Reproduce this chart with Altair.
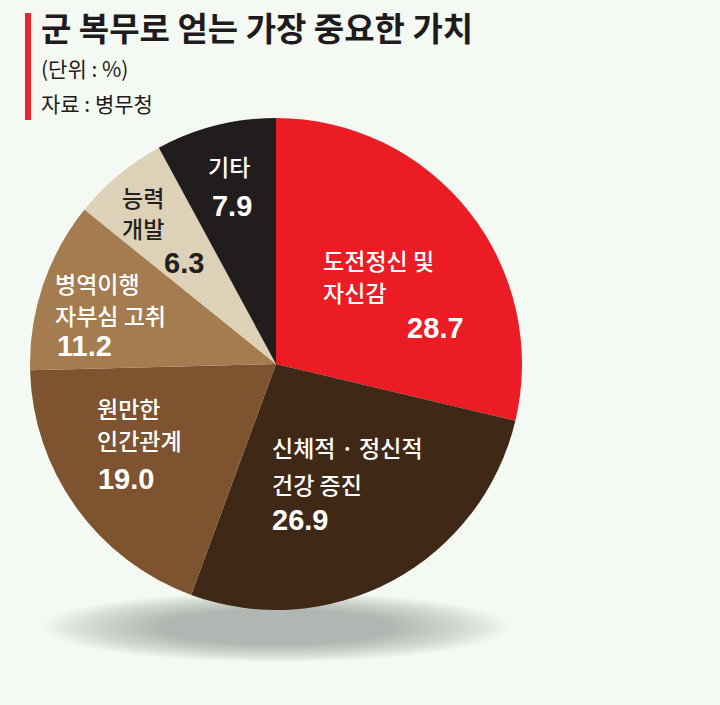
import math
import altair as alt
import pandas as pd

TITLE = "군 복무로 얻는 가장 중요한 가치"
UNIT = "(단위 : %)"
SOURCE = "자료 : 병무청"

categories = ["도전정신 및\n자신감", "신체적 · 정신적\n건강 증진", "원만한\n인간관계",
              "병역이행\n자부심 고취", "능력\n개발", "기타"]
values = [28.7, 26.9, 19.0, 11.2, 6.3, 7.9]
slice_colors = ["#ec1c24", "#3f2816", "#7d5330", "#a47c50", "#ddd2b7", "#211d1e"]

df = pd.DataFrame({"category": categories, "value": values,
                   "order": list(range(len(values)))})

CX, CY, R = 276, 364, 246
BG = "#f4faf3"
KFONT = "Noto Sans CJK KR"
NFONT = "Liberation Sans"
INK = "#1f1b1c"

theta_scale = alt.Scale(domain=[0, 100], range=[0, 2 * math.pi])

# label layout: anchor radius, nudge to first line, line gap, number offset, text colour
label_layout = [
    dict(r=120, dx=-47, dy=-27, gap=32, ndx=84, ndy=66, color="#ffffff"),
    dict(r=130, dx=-65.5, dy=-28.5, gap=37, ndx=0, ndy=71, color="#ffffff"),
    dict(r=160, dx=-49, dy=-46, gap=31.5, ndx=1, ndy=69, color="#ffffff"),
    dict(r=170, dx=-60, dy=-23.4, gap=31.5, ndx=2, ndy=61, color="#ffffff"),
    dict(r=180, dx=-38.8, dy=-26, gap=31, ndx=42, ndy=64, color="#231f20"),
    dict(r=180, dx=-23.8, dy=-20.5, gap=0, ndx=4, ndy=38, color="#ffffff"),
]

ONE = alt.Data(values=[{}])

# soft shadow under the pie (stacked translucent ellipses)
ELLIPSE = "M -1 0 A 1 0.15 0 1 1 1 0 A 1 0.15 0 1 1 -1 0 Z"
shadow_layers = []
for k in range(20):
    w = 466 - k * 12
    shadow_layers.append(
        alt.Chart(ONE).mark_point(shape=ELLIPSE, filled=True, size=w * w,
                                  color="#5c6070", opacity=0.027, strokeWidth=0)
        .encode(x=alt.value(CX), y=alt.value(627))
    )

pie = alt.Chart(df).mark_arc(radius=R).encode(
    theta=alt.Theta("value:Q", stack=True, scale=theta_scale),
    order=alt.Order("order:Q"),
    color=alt.Color("category:N", scale=alt.Scale(domain=categories, range=slice_colors),
                    legend=None),
    x=alt.value(CX),
    y=alt.value(CY),
)


def label_base(i):
    return (alt.Chart(df)
            .transform_window(cum="sum(value)", sort=[alt.SortField("order")])
            .transform_calculate(mid="datum.cum - datum.value / 2")
            .transform_filter(f"datum.order == {i}"))


label_layers = []
for i, lay in enumerate(label_layout):
    n_lines = categories[i].count("\n") + 1
    for j in range(n_lines):
        label_layers.append(
            label_base(i)
            .transform_calculate(line=f"split(datum.category, '\\n')[{j}]")
            .mark_text(align="left", baseline="middle", font=KFONT, fontSize=23,
                       fontWeight=500, color=lay["color"],
                       dx=lay["dx"], dy=lay["dy"] + j * lay["gap"])
            .encode(theta=alt.Theta("mid:Q", stack=False, scale=theta_scale),
                    radius=alt.value(lay["r"]),
                    x=alt.value(CX), y=alt.value(CY),
                    text="line:N")
        )
    label_layers.append(
        label_base(i)
        .transform_calculate(num="format(datum.value, '.1f')")
        .mark_text(align="left", baseline="middle", font=NFONT, fontSize=29,
                   fontWeight="bold", color=lay["color"],
                   dx=lay["dx"] + lay["ndx"], dy=lay["dy"] + lay["ndy"])
        .encode(theta=alt.Theta("mid:Q", stack=False, scale=theta_scale),
                radius=alt.value(lay["r"]),
                x=alt.value(CX), y=alt.value(CY),
                text="num:N")
    )


def static_text(txt, x, y, size, weight):
    return alt.Chart(ONE).mark_text(align="left", baseline="middle", font=KFONT,
                                    fontSize=size, fontWeight=weight, color=INK).encode(
        x=alt.value(x), y=alt.value(y), text=alt.value(txt))


title = static_text(TITLE, 41, 31, 33, "bold")
unit = static_text(UNIT, 41, 71, 21, "normal")
source = static_text(SOURCE, 41, 106, 21, "normal")

bar = alt.Chart(ONE).mark_rule(color="#e8232b", strokeWidth=6).encode(
    x=alt.value(28), y=alt.value(13), y2=alt.value(120))

chart = alt.layer(*shadow_layers, pie, *label_layers, title, unit, source, bar).properties(
    width=720, height=705, padding=0,
    autosize=alt.AutoSizeParams(type="none"),
).configure(background=BG).configure_view(stroke="transparent")

chart.save("out.html", embed_options={"renderer": "svg", "actions": False})
